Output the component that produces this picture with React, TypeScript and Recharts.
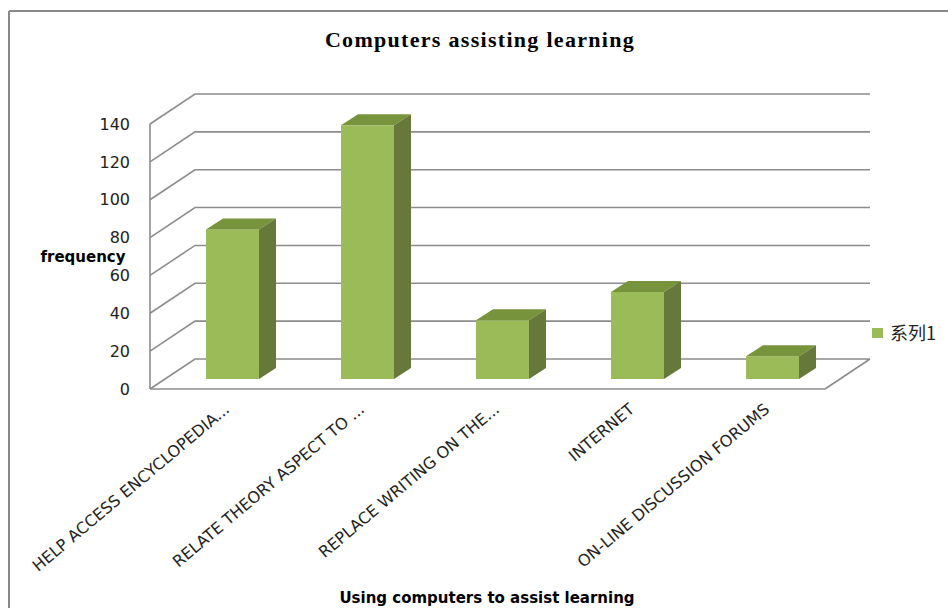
import React from 'react';
import { BarChart, Bar, XAxis, YAxis, CartesianGrid, Label } from 'recharts';

const categories = [
  'HELP ACCESS ENCYCLOPEDIA...',
  'RELATE THEORY ASPECT TO ...',
  'REPLACE WRITING ON THE...',
  'INTERNET',
  'ON-LINE DISCUSSION FORUMS',
];
const values = [79, 134, 31, 46, 12];
const yTicks = [0, 20, 40, 60, 80, 100, 120, 140];
const seriesName = '系列1';
const title = 'Computers assisting learning';
const xTitle = 'Using computers to assist learning';
const yTitle = 'frequency';

const data = categories.map((c, i) => ({ name: c, value: values[i] }));

const DX = 45; // depth offset of back wall
const DY = 30;
const BSX = 15; // bar plane shift
const BSY = 10;
const BDX = 17; // bar depth
const BDY = 11;
const GRID = '#8c8c8c';
const SANS = 'DejaVu Sans, Liberation Sans, sans-serif';

const Bar3D = (props: any) => {
  const { x, y, width, height } = props;
  if (height == null || height <= 0) return null;
  const fx = x + BSX;
  const fy = y - BSY;
  const w = width;
  const h = height;
  return (
    <g>
      <rect x={fx} y={fy} width={w} height={h} fill="#9BBB59" />
      <polygon
        points={`${fx},${fy} ${fx + w},${fy} ${fx + w + BDX},${fy - BDY} ${fx + BDX},${fy - BDY}`}
        fill="#77933C"
      />
      <polygon
        points={`${fx + w},${fy} ${fx + w + BDX},${fy - BDY} ${fx + w + BDX},${fy + h - BDY} ${fx + w},${fy + h}`}
        fill="#66793A"
      />
    </g>
  );
};

const gridLine = (p: any) => {
  const { x1, y1, x2, index } = p;
  const bottom = Math.abs(y1 - 389) < 2;
  let d = `M${x1},${y1} L${x1 + DX},${y1 - DY} L${x2 + DX},${y1 - DY}`;
  if (bottom) d += ` M${x2},${y1} L${x2 + DX},${y1 - DY}`;
  return <path key={`g-${index}-${y1}`} d={d} stroke={GRID} strokeWidth={1.6} fill="none" />;
};

const XTick = (props: any) => {
  const { x, y, payload } = props;
  return (
    <g transform={`translate(${x + 13},${y + 14})`}>
      <text
        x={0}
        y={0}
        transform="rotate(-40)"
        textAnchor="end"
        fontFamily={SANS}
        fontSize={16}
        fill="#222"
      >
        {payload.value}
      </text>
    </g>
  );
};

export default function App() {
  return (
    <div style={{ width: 948, height: 608, position: 'relative', background: '#fff' }}>
      <style>{`body{margin:0}`}</style>
      <BarChart
        width={948}
        height={608}
        data={data}
        margin={{ top: 124, right: 123, left: 0, bottom: 0 }}
        barSize={53}
      >
        <line x1={9} y1={11} x2={948} y2={11} stroke="#888" strokeWidth={2} />
        <line x1={9} y1={11} x2={9} y2={608} stroke="#888" strokeWidth={2} />
        <text
          x={480}
          y={47}
          textAnchor="middle"
          fontFamily="Liberation Serif, Times New Roman, serif"
          fontWeight="bold"
          fontSize={22}
          letterSpacing={1.3}
          fill="#000"
        >
          {title}
        </text>
        <rect x={872} y={328} width={11} height={10} fill="#9BBB59" />
        <text x={890} y={340} fontFamily="Noto Sans CJK SC, sans-serif" fontSize={18} fill="#222">
          {seriesName}
        </text>
        <CartesianGrid horizontal={gridLine} vertical={false} />
        <XAxis
          dataKey="name"
          height={219}
          interval={0}
          axisLine={{ stroke: GRID, strokeWidth: 1.6 }}
          tickLine={false}
          tick={<XTick />}
        >
          <Label
            content={() => (
              <text
                x={487}
                y={603}
                textAnchor="middle"
                fontFamily={SANS}
                fontWeight="bold"
                fontSize={15}
                fill="#000"
              >
                {xTitle}
              </text>
            )}
          />
        </XAxis>
        <YAxis
          width={150}
          domain={[0, 140]}
          ticks={yTicks}
          interval={0}
          axisLine={{ stroke: GRID, strokeWidth: 1.6 }}
          tickLine={false}
          tickMargin={14}
          tick={{ fontFamily: SANS, fontSize: 16, fill: '#222' }}
        >
          <Label
            content={() => (
              <text
                x={83}
                y={262}
                textAnchor="middle"
                fontFamily={SANS}
                fontWeight="bold"
                fontSize={15}
                fill="#000"
              >
                {yTitle}
              </text>
            )}
          />
        </YAxis>
        <Bar dataKey="value" name={seriesName} shape={Bar3D} isAnimationActive={false} />
      </BarChart>
    </div>
  );
}
